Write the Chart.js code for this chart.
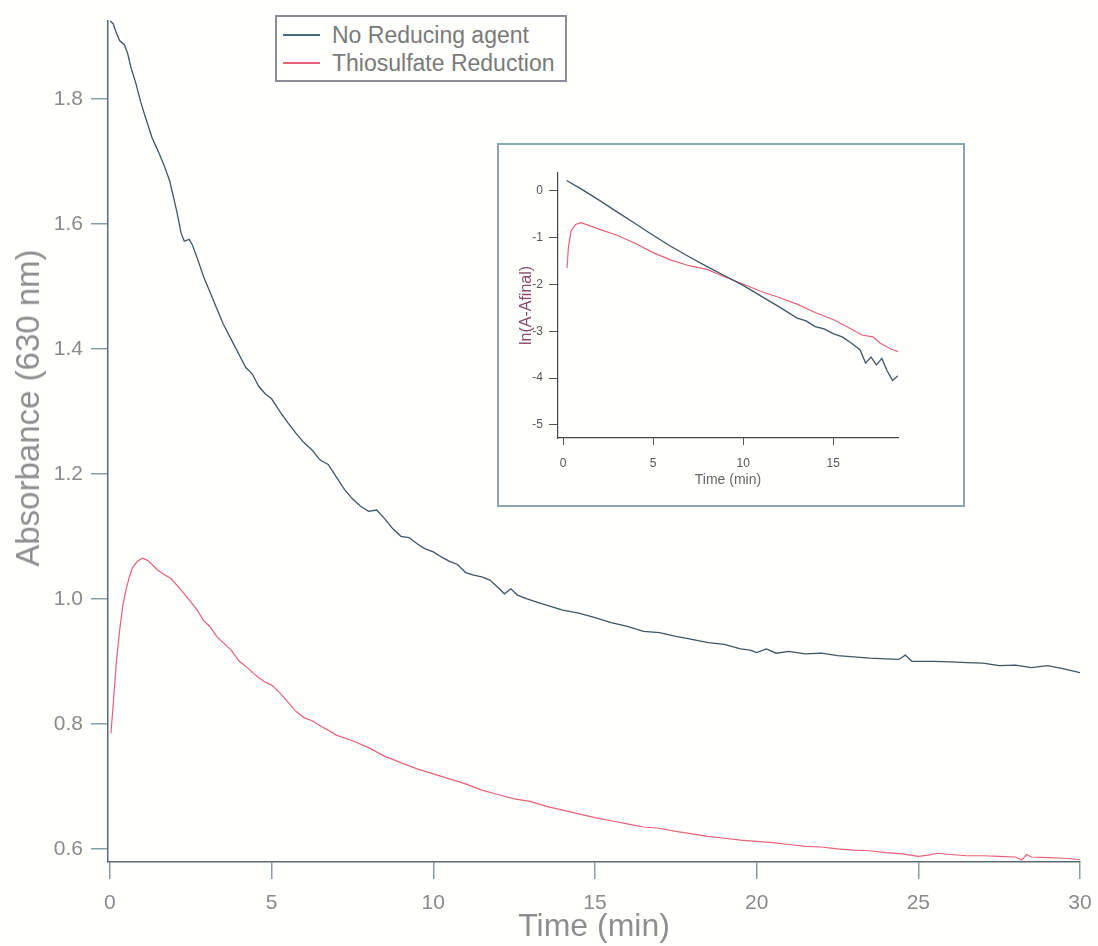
<!DOCTYPE html>
<html>
<head>
<meta charset="utf-8">
<script src="https://cdn.jsdelivr.net/npm/chart.js@4.4.1/dist/chart.umd.min.js"></script>
<style>
  body { margin: 0; background: #fffffd; }
  #wrap { position: relative; width: 1098px; height: 946px; }
  #legend {
    position: absolute; left: 275px; top: 15px; width: 288px; height: 63px;
    border: 2px solid #8c8c96; background: #fffffd;
    font-family: "Liberation Sans", Arial, sans-serif; font-size: 23px; color: #7a7a7a;
  }
  .row { position: absolute; left: 0; height: 26px; line-height: 26px; white-space: nowrap; }
  .row span.swatch { position: absolute; left: 6px; top: 12px; width: 37px; height: 0; border-top: 2px solid; }
  .row span.txt { position: absolute; left: 55px; top: 0; }
  #ytitle {
    position: absolute; left: 28px; top: 408px; transform: translate(-50%, -50%) rotate(-90deg);
    white-space: nowrap; font-family: "Liberation Sans", Arial, sans-serif; font-size: 33px; color: #8e8e8e;
  }
  #inset {
    position: absolute; left: 497px; top: 143px; width: 464px; height: 360px;
    border: 2px solid #8aa6b2; background: #fffffd;
  }
</style>
</head>
<body>
<div id="wrap">
  <canvas id="mainChart" width="1098" height="946"></canvas>
  <div id="ytitle">Absorbance (630 nm)</div>
  <div id="legend">
    <div class="row" style="top:5px"><span class="swatch" style="border-color:#4a6a78"></span><span class="txt">No Reducing agent</span></div>
    <div class="row" style="top:33px"><span class="swatch" style="border-color:#e8607a"></span><span class="txt">Thiosulfate Reduction</span></div>
  </div>
  <div id="inset"><canvas id="insetChart" width="464" height="360"></canvas></div>
</div>
<script>
// main plot: absorbance at 630 nm vs time (min), [t, A]
const noReducing = [
  [0,1.925],[0.1,1.92],[0.2,1.905],[0.3,1.893],[0.45,1.886],[0.55,1.872],[0.65,1.85],[0.8,1.825],
  [0.95,1.795],[1.1,1.77],[1.3,1.738],[1.5,1.715],[1.7,1.69],[1.85,1.668],[2.0,1.635],[2.1,1.612],
  [2.2,1.585],[2.3,1.572],[2.45,1.575],[2.55,1.566],[2.7,1.545],[2.9,1.515],[3.1,1.49],[3.3,1.465],
  [3.5,1.44],[3.75,1.415],[4.0,1.39],[4.2,1.37],[4.4,1.36],[4.6,1.34],[4.8,1.328],[5.0,1.32],
  [5.25,1.3],[5.5,1.282],[5.75,1.265],[6.0,1.25],[6.25,1.238],[6.5,1.222],[6.75,1.215],[7.0,1.195],
  [7.25,1.175],[7.5,1.16],[7.75,1.148],[8.0,1.14],[8.25,1.142],[8.5,1.128],[8.75,1.112],[9.0,1.1],
  [9.25,1.098],[9.5,1.088],[9.75,1.08],[10.0,1.075],[10.25,1.067],[10.5,1.06],[10.75,1.055],[11.0,1.042],
  [11.25,1.038],[11.5,1.035],[11.75,1.03],[12.0,1.018],[12.2,1.008],[12.4,1.016],[12.6,1.006],[12.9,1.0],
  [13.25,0.994],[13.5,0.99],[14.0,0.982],[14.5,0.977],[15.0,0.97],[15.5,0.962],[16.0,0.956],[16.5,0.948],
  [17.0,0.946],[17.5,0.94],[18.0,0.935],[18.5,0.93],[19.0,0.927],[19.5,0.92],[19.8,0.918],[20.0,0.914],
  [20.3,0.92],[20.6,0.913],[21.0,0.916],[21.5,0.912],[22.0,0.913],[22.5,0.909],[23.0,0.907],[23.5,0.905],
  [24.0,0.904],[24.4,0.903],[24.6,0.91],[24.8,0.9],[25.5,0.9],[26.0,0.899],[26.5,0.898],[27.0,0.897],
  [27.5,0.893],[28.0,0.894],[28.5,0.89],[29.0,0.893],[29.5,0.888],[30.0,0.882]
];
const thiosulfate = [
  [0.03,0.785],[0.1,0.83],[0.2,0.9],[0.3,0.95],[0.4,0.99],[0.5,1.015],[0.6,1.035],[0.7,1.05],
  [0.85,1.06],[1.0,1.065],[1.15,1.062],[1.3,1.055],[1.5,1.045],[1.7,1.038],[1.9,1.032],[2.1,1.02],
  [2.3,1.008],[2.5,0.995],[2.7,0.982],[2.9,0.965],[3.1,0.955],[3.3,0.94],[3.5,0.93],[3.75,0.918],
  [4.0,0.9],[4.25,0.89],[4.5,0.878],[4.75,0.868],[5.0,0.862],[5.25,0.85],[5.5,0.835],[5.75,0.82],
  [6.0,0.81],[6.25,0.805],[6.5,0.797],[6.75,0.79],[7.0,0.782],[7.5,0.773],[8.0,0.762],[8.5,0.748],
  [9.0,0.738],[9.5,0.728],[10.0,0.72],[10.5,0.712],[11.0,0.704],[11.5,0.694],[12.0,0.687],[12.5,0.68],
  [13.0,0.676],[13.5,0.668],[14.0,0.662],[14.5,0.656],[15.0,0.65],[15.5,0.645],[16.0,0.64],[16.5,0.635],
  [17.0,0.633],[17.5,0.628],[18.0,0.624],[18.5,0.62],[19.0,0.617],[19.5,0.614],[20.0,0.612],[20.5,0.61],
  [21.0,0.607],[21.5,0.604],[22.0,0.603],[22.5,0.6],[23.0,0.598],[23.5,0.597],[24.0,0.594],[24.5,0.592],
  [25.0,0.588],[25.3,0.59],[25.6,0.593],[26.0,0.591],[26.5,0.589],[27.0,0.589],[27.5,0.588],[28.0,0.587],
  [28.2,0.582],[28.35,0.591],[28.5,0.587],[29.0,0.586],[29.5,0.585],[30.0,0.583]
];

// inset: ln(A - Afinal) vs time
const insetNoReducing = [
  [0.2,0.22],[1,0.04],[2,-0.2],[3,-0.45],[4,-0.7],[5,-0.95],[6,-1.19],[7,-1.41],[8,-1.62],[9,-1.82],
  [10,-2.02],[11,-2.25],[12,-2.48],[13,-2.72],[13.5,-2.78],[14,-2.9],[14.5,-2.95],[15,-3.05],[15.5,-3.12],
  [16,-3.25],[16.5,-3.4],[16.8,-3.68],[17.1,-3.55],[17.4,-3.72],[17.7,-3.58],[18.0,-3.85],[18.3,-4.05],[18.6,-3.95]
];
const insetThiosulfate = [
  [0.22,-1.65],[0.3,-1.2],[0.45,-0.85],[0.7,-0.72],[1.0,-0.68],[2,-0.82],[3,-0.95],[4,-1.12],[5,-1.32],
  [6,-1.48],[7,-1.6],[8,-1.68],[9,-1.84],[10,-1.99],[11,-2.15],[12,-2.28],[13,-2.42],[14,-2.6],[15,-2.75],
  [16,-2.95],[16.6,-3.08],[17.2,-3.12],[17.6,-3.25],[18.2,-3.38],[18.7,-3.45]
];

const mainTicksY = [0.6, 0.8, 1.0, 1.2, 1.4, 1.6, 1.8];
const mainTicksX = [0, 5, 10, 15, 20, 25, 30];
const insetTicksY = [0, -1, -2, -3, -4, -5];
const insetTicksX = [0, 5, 10, 15];

const BLACK = '#3f5662';
const RED = '#e8607a';
const FONT = '"Liberation Sans", Arial, sans-serif';

const toXY = arr => arr.map(p => ({ x: p[0], y: p[1] }));
const fixTicks = list => scale => { scale.ticks = list.map(v => ({ value: v })); };

new Chart(document.getElementById('mainChart'), {
    type: 'line',
    data: {
        datasets: [
            { label: 'No Reducing agent', data: toXY(noReducing), borderColor: BLACK, borderWidth: 1.3, pointRadius: 0, tension: 0 },
            { label: 'Thiosulfate Reduction', data: toXY(thiosulfate), borderColor: RED, borderWidth: 1.2, pointRadius: 0, tension: 0 },
        ],
    },
    options: {
        responsive: false,
        animation: false,
        layout: { padding: { top: 20, right: 18, left: 0, bottom: 0 } },
        plugins: { legend: { display: false }, tooltip: { enabled: false } },
        scales: {
            x: {
                type: 'linear',
                min: -0.06,
                max: 30,
                afterBuildTicks: fixTicks(mainTicksX),
                afterFit: s => { s.height = 84; s.paddingRight = 0; s.paddingLeft = 0; },
                grid: { drawOnChartArea: false, tickLength: 17, color: '#8a9ca4', lineWidth: 1.5 },
                border: { color: '#5a6a72', width: 1.5 },
                ticks: { color: '#8a8a8a', font: { family: FONT, size: 21 }, padding: 12, maxRotation: 0 },
                title: { display: true, text: 'Time (min)', color: '#8e8e8e', font: { family: FONT, size: 32 }, padding: { top: 0, bottom: 0 } },
            },
            y: {
                min: 0.579,
                max: 1.925,
                afterBuildTicks: fixTicks(mainTicksY),
                afterFit: s => { s.width = 108; },
                grid: { drawOnChartArea: false, tickLength: 17, color: '#8a9ca4', lineWidth: 1.5 },
                border: { color: '#5a6a72', width: 1.5 },
                ticks: { color: '#8a8a8a', font: { family: FONT, size: 21 }, padding: 8, callback: v => v.toFixed(1) },
            },
        },
    },
});

new Chart(document.getElementById('insetChart'), {
    type: 'line',
    data: {
        datasets: [
            { label: 'No Reducing agent', data: toXY(insetNoReducing), borderColor: BLACK, borderWidth: 1.3, pointRadius: 0, tension: 0 },
            { label: 'Thiosulfate Reduction', data: toXY(insetThiosulfate), borderColor: RED, borderWidth: 1.2, pointRadius: 0, tension: 0 },
        ],
    },
    options: {
        responsive: false,
        animation: false,
        layout: { padding: { top: 28, right: 65, left: 0, bottom: 0 } },
        plugins: { legend: { display: false }, tooltip: { enabled: false } },
        scales: {
            x: {
                type: 'linear',
                min: -0.28,
                max: 18.6,
                afterBuildTicks: fixTicks(insetTicksX),
                afterFit: s => { s.height = 67; s.paddingRight = 0; s.paddingLeft = 0; },
                grid: { drawOnChartArea: false, tickLength: 7, color: '#555' },
                border: { color: '#444', width: 1.2 },
                ticks: { color: '#555', font: { family: FONT, size: 12 }, padding: 11, maxRotation: 0 },
                title: { display: true, text: 'Time (min)', color: '#666', font: { family: FONT, size: 14 }, padding: { top: 0, bottom: 16 } },
            },
            y: {
                min: -5.28,
                max: 0.38,
                afterBuildTicks: fixTicks(insetTicksY),
                afterFit: s => { s.width = 59; },
                grid: { drawOnChartArea: false, tickLength: 9, color: '#555' },
                border: { color: '#444', width: 1.2 },
                ticks: { color: '#555', font: { family: FONT, size: 12 }, padding: 6 },
                title: { display: true, text: 'ln(A-Afinal)', color: '#8a4a6a', font: { family: FONT, size: 16 }, padding: { top: 18, bottom: 0 } },
            },
        },
    },
});
</script>
</body>
</html>
